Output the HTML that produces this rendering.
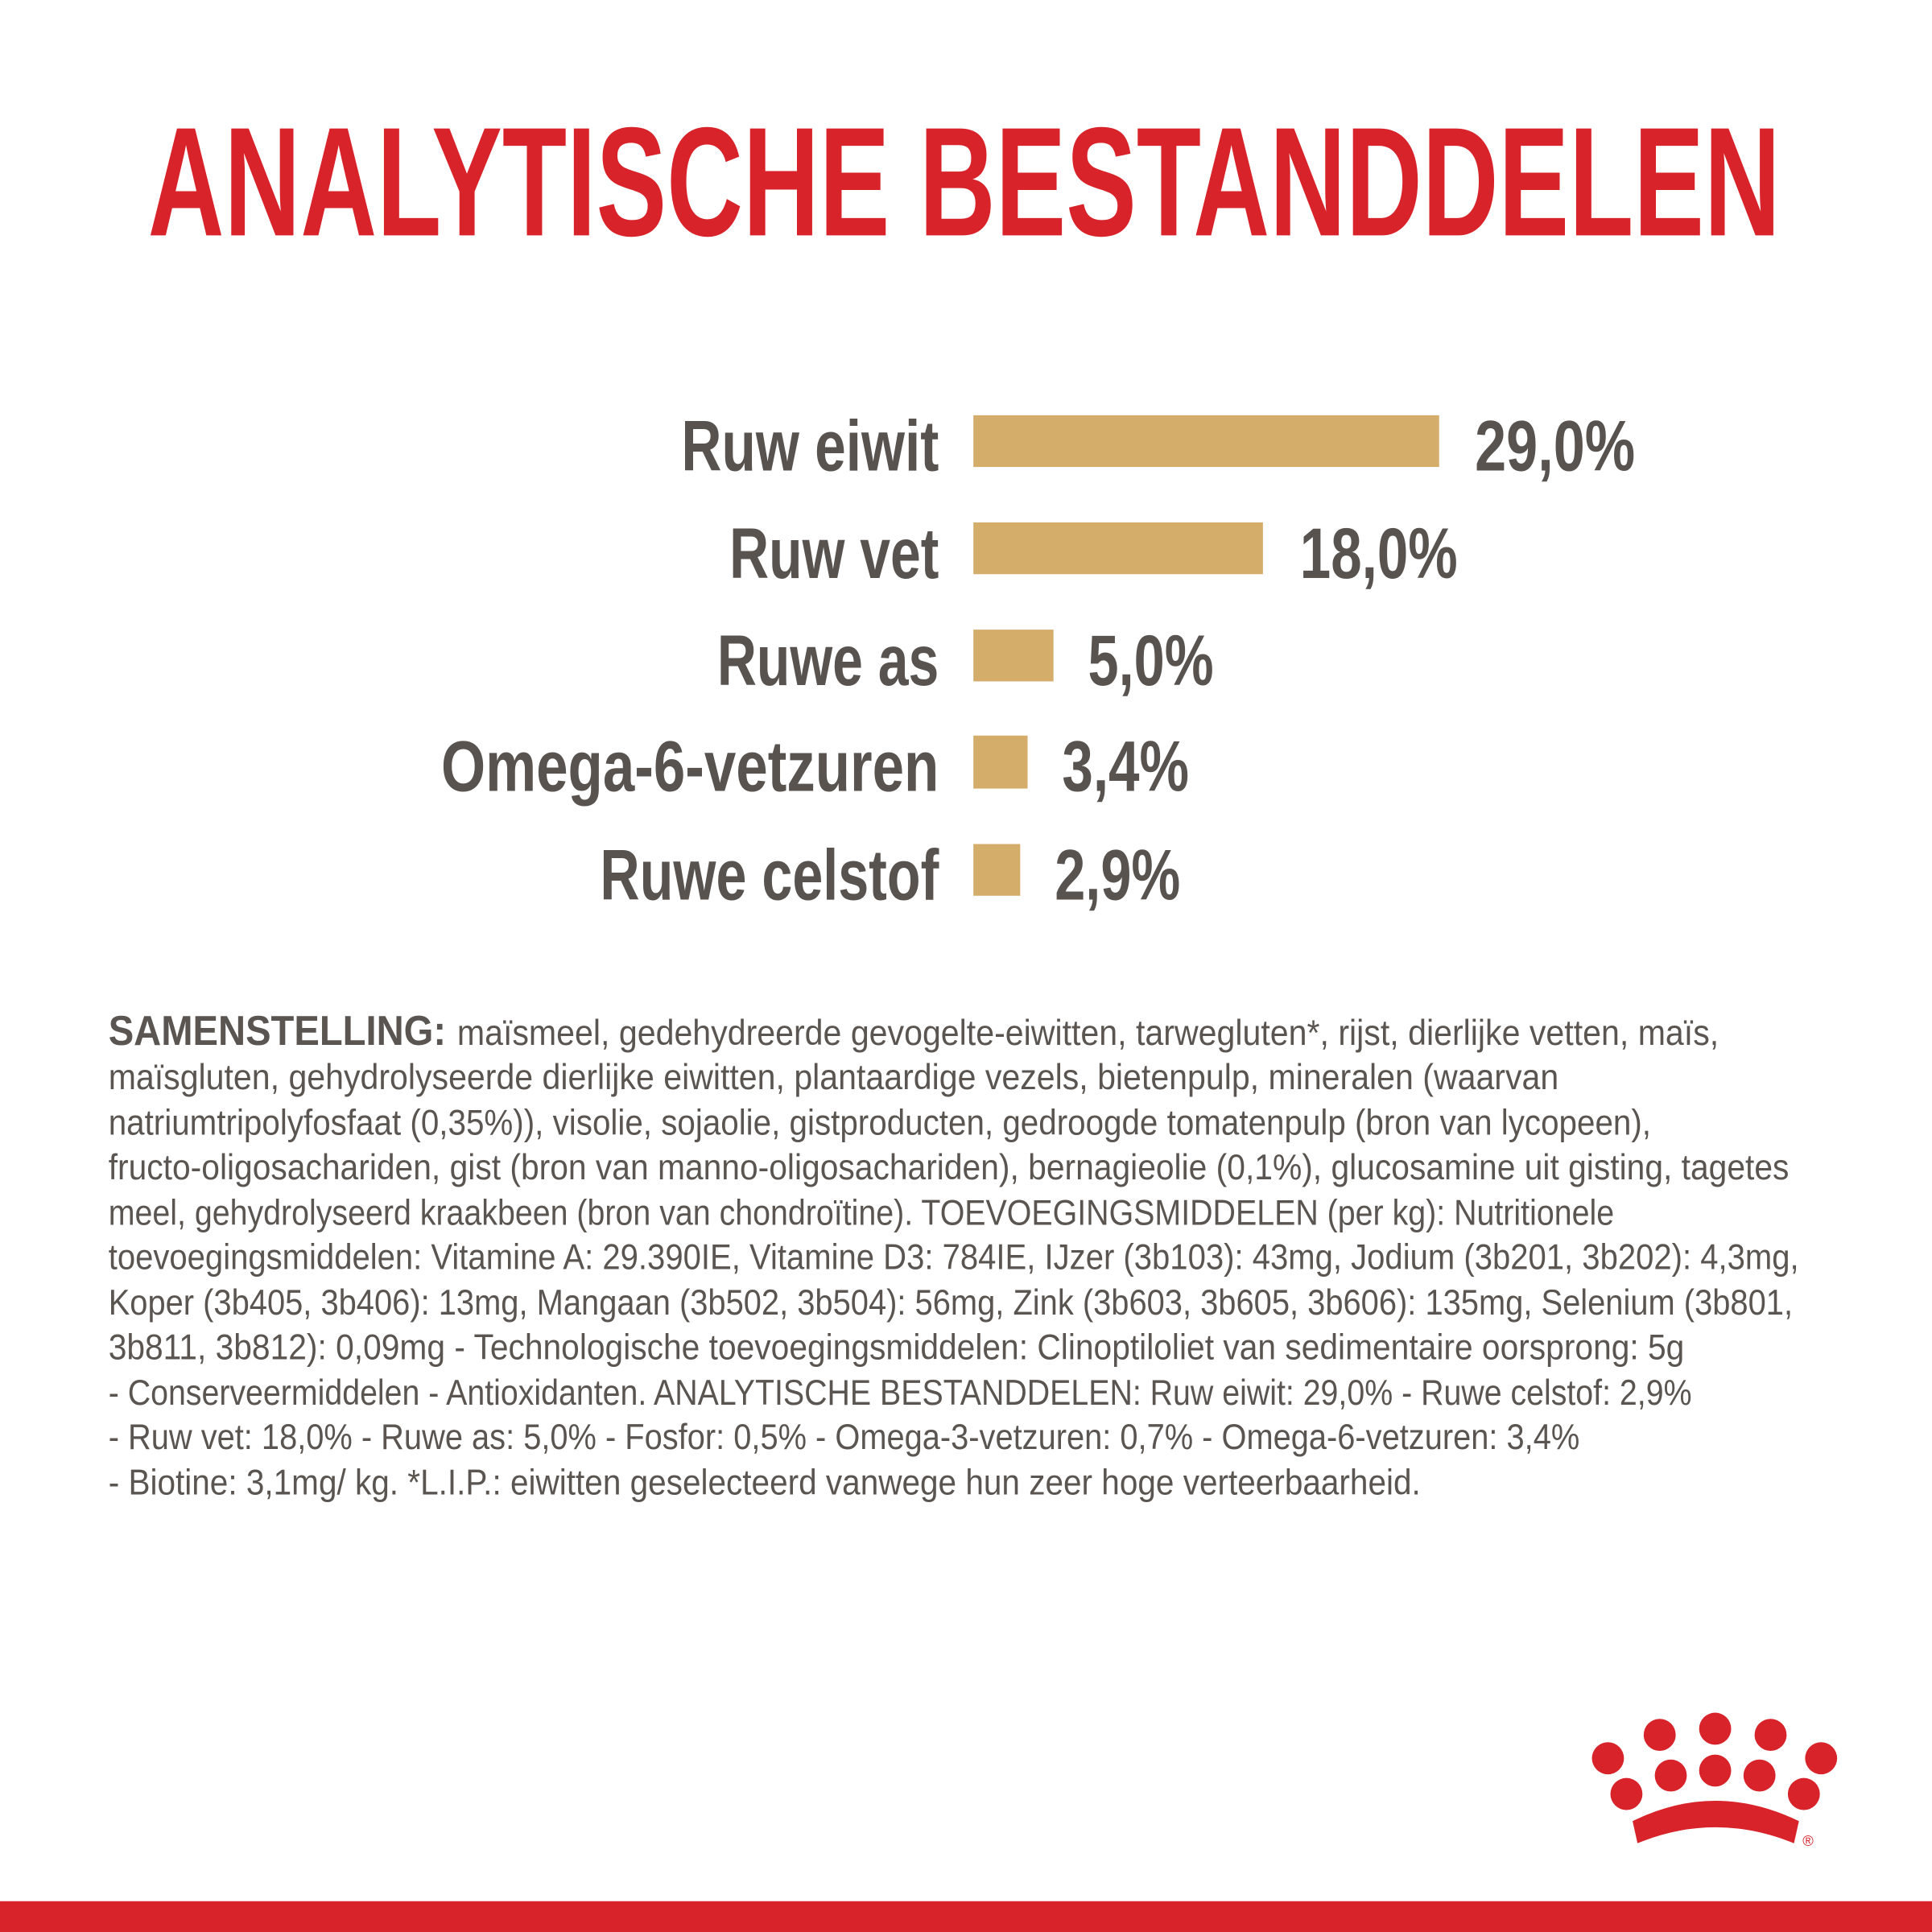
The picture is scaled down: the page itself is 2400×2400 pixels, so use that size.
<!DOCTYPE html>
<html><head><meta charset="utf-8"><style>html,body{margin:0;padding:0;background:#fff}svg{display:block}</style></head>
<body>
<svg width="2400" height="2400" viewBox="0 0 1568 1568" xmlns="http://www.w3.org/2000/svg">
<rect width="1568" height="1568" fill="#fff"/>
<text x="120" y="191" font-family="Liberation Sans, sans-serif" font-weight="bold" font-size="126" fill="#d8232a" textLength="1325" lengthAdjust="spacingAndGlyphs">ANALYTISCHE BESTANDDELEN</text>
<g fill="#d4ad6b">
<rect x="790" y="337" width="378" height="42"/>
<rect x="790" y="424" width="235" height="42"/>
<rect x="790" y="511" width="65" height="42"/>
<rect x="790" y="597" width="44" height="43"/>
<rect x="790" y="685" width="38" height="42"/>
</g>
<g font-family="Liberation Sans, sans-serif" font-weight="bold" font-size="58" fill="#58534f" lengthAdjust="spacingAndGlyphs">
<text x="553" y="382" textLength="209" lengthAdjust="spacingAndGlyphs">Ruw eiwit</text>
<text x="592" y="469" textLength="170" lengthAdjust="spacingAndGlyphs">Ruw vet</text>
<text x="582" y="556" textLength="180" lengthAdjust="spacingAndGlyphs">Ruwe as</text>
<text x="358" y="642" textLength="404" lengthAdjust="spacingAndGlyphs">Omega-6-vetzuren</text>
<text x="487" y="730" textLength="275" lengthAdjust="spacingAndGlyphs">Ruwe celstof</text>
<text x="1197" y="382" textLength="130" lengthAdjust="spacingAndGlyphs">29,0%</text>
<text x="1055" y="469" textLength="128" lengthAdjust="spacingAndGlyphs">18,0%</text>
<text x="883" y="556" textLength="102" lengthAdjust="spacingAndGlyphs">5,0%</text>
<text x="862" y="642" textLength="103" lengthAdjust="spacingAndGlyphs">3,4%</text>
<text x="856" y="730" textLength="102" lengthAdjust="spacingAndGlyphs">2,9%</text>
</g>
<g font-family="Liberation Sans, sans-serif" font-size="29" fill="#5a5550">
<text x="88" y="848" font-weight="bold" font-size="34" textLength="274" lengthAdjust="spacingAndGlyphs">SAMENSTELLING:</text>
<text x="371" y="848" textLength="1024" lengthAdjust="spacingAndGlyphs">maïsmeel, gedehydreerde gevogelte-eiwitten, tarwegluten*, rijst, dierlijke vetten, maïs,</text>
<text x="88" y="884" textLength="1177" lengthAdjust="spacingAndGlyphs">maïsgluten, gehydrolyseerde dierlijke eiwitten, plantaardige vezels, bietenpulp, mineralen (waarvan</text>
<text x="88" y="921" textLength="1252" lengthAdjust="spacingAndGlyphs">natriumtripolyfosfaat (0,35%)), visolie, sojaolie, gistproducten, gedroogde tomatenpulp (bron van lycopeen),</text>
<text x="88" y="957" textLength="1364" lengthAdjust="spacingAndGlyphs">fructo-oligosachariden, gist (bron van manno-oligosachariden), bernagieolie (0,1%), glucosamine uit gisting, tagetes</text>
<text x="88" y="994" textLength="1222" lengthAdjust="spacingAndGlyphs">meel, gehydrolyseerd kraakbeen (bron van chondroïtine). TOEVOEGINGSMIDDELEN (per kg): Nutritionele</text>
<text x="88" y="1030" textLength="1372" lengthAdjust="spacingAndGlyphs">toevoegingsmiddelen: Vitamine A: 29.390IE, Vitamine D3: 784IE, IJzer (3b103): 43mg, Jodium (3b201, 3b202): 4,3mg,</text>
<text x="88" y="1067" textLength="1367" lengthAdjust="spacingAndGlyphs">Koper (3b405, 3b406): 13mg, Mangaan (3b502, 3b504): 56mg, Zink (3b603, 3b605, 3b606): 135mg, Selenium (3b801,</text>
<text x="88" y="1103" textLength="1279" lengthAdjust="spacingAndGlyphs">3b811, 3b812): 0,09mg - Technologische toevoegingsmiddelen: Clinoptiloliet van sedimentaire oorsprong: 5g</text>
<text x="88" y="1140" textLength="1285" lengthAdjust="spacingAndGlyphs">- Conserveermiddelen - Antioxidanten. ANALYTISCHE BESTANDDELEN: Ruw eiwit: 29,0% - Ruwe celstof: 2,9%</text>
<text x="88" y="1176" textLength="1194" lengthAdjust="spacingAndGlyphs">- Ruw vet: 18,0% - Ruwe as: 5,0% - Fosfor: 0,5% - Omega-3-vetzuren: 0,7% - Omega-6-vetzuren: 3,4%</text>
<text x="88" y="1213" textLength="1065" lengthAdjust="spacingAndGlyphs">- Biotine: 3,1mg/ kg. *L.I.P.: eiwitten geselecteerd vanwege hun zeer hoge verteerbaarheid.</text>
</g>
<g fill="#d8232a">
<circle cx="1347" cy="1408" r="13"/><circle cx="1392" cy="1403" r="13"/><circle cx="1437" cy="1408" r="13"/>
<circle cx="1305" cy="1427" r="13"/><circle cx="1356" cy="1441" r="13"/><circle cx="1392" cy="1437" r="13"/><circle cx="1428" cy="1441" r="13"/><circle cx="1478" cy="1427" r="13"/>
<circle cx="1320" cy="1456" r="13"/><circle cx="1464" cy="1456" r="13"/>
<path d="M1325 1478 Q1392 1445 1460 1478 L1456 1496 Q1392 1470 1329 1496 Z"/>
<text x="1463" y="1498" font-family="Liberation Sans, sans-serif" font-size="12">®</text>
</g>
<rect x="0" y="1543" width="1568" height="25" fill="#d8232a"/>
</svg>
</body></html>
